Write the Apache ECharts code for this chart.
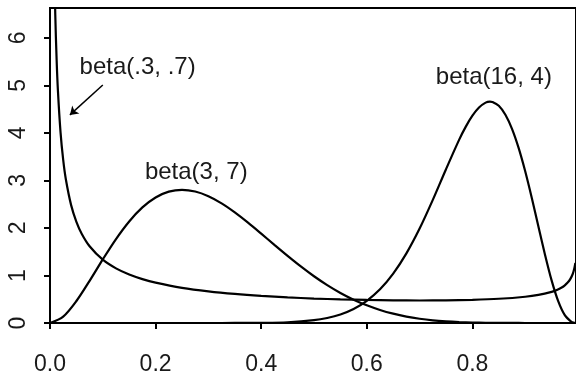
<!DOCTYPE html>
<html><head><meta charset="utf-8">
<script src="https://cdn.jsdelivr.net/npm/echarts@6/dist/echarts.min.js"></script>
<style>html,body{margin:0;padding:0;background:#fff}#c{width:576px;height:377px}</style>
</head><body><div id="c"></div>
<script>
// beta(.3, .7)
const xA = [0.005,0.0075,0.01,0.0125,0.015,0.02,0.025,0.03,0.04,0.05,0.06,0.075,0.1,0.125,0.15,0.175,0.2,0.25,0.3,0.35,0.4,0.45,0.5,0.55,0.6,0.65,0.7,0.75,0.8,0.85,0.9,0.925,0.95,0.96,0.97,0.975,0.98,0.985,0.99,0.9925,0.995];
const yA = [10.52,7.929,6.488,5.554,4.892,4.006,3.432,3.026,2.481,2.129,1.880,1.616,1.332,1.149,1.020,0.924,0.850,0.741,0.666,0.611,0.570,0.539,0.515,0.497,0.485,0.477,0.474,0.477,0.488,0.510,0.553,0.592,0.656,0.696,0.753,0.793,0.845,0.917,1.032,1.124,1.266];
// beta(3, 7)
const xB = [0,0.025,0.05,0.075,0.1,0.125,0.15,0.175,0.2,0.225,0.25,0.275,0.3,0.325,0.35,0.375,0.4,0.425,0.45,0.475,0.5,0.525,0.55,0.575,0.6,0.625,0.65,0.675,0.7,0.725,0.75,0.775,0.8,0.825,0.85,0.875,0.9,0.95,0.995];
const yB = [0,0.135,0.463,0.888,1.339,1.767,2.138,2.433,2.642,2.764,2.803,2.767,2.668,2.518,2.328,2.112,1.881,1.645,1.413,1.191,0.984,0.798,0.633,0.491,0.372,0.274,0.196,0.135,0.090,0.057,0.035,0.020,0.010,0.005,0.002,0.001,0.0002,0,0];
// beta(16, 4)
const xC = [0,0.3,0.35,0.4,0.45,0.5,0.525,0.55,0.575,0.6,0.625,0.65,0.675,0.7,0.725,0.75,0.775,0.7875,0.8,0.8125,0.825,0.8333,0.8375,0.85,0.8625,0.875,0.8875,0.9,0.9125,0.925,0.9375,0.95,0.9625,0.975,0.9875,0.9925,0.995];
const yC = [0,0,0.0006,0.0036,0.0162,0.0591,0.1054,0.180,0.295,0.467,0.709,1.039,1.465,1.987,2.591,3.237,3.860,4.133,4.364,4.535,4.639,4.659,4.653,4.571,4.382,4.086,3.685,3.192,2.630,2.031,1.438,0.898,0.461,0.166,0.025,0.006,0.002];

const xTicks = [0, 0.2, 0.4, 0.6, 0.8];
const yTicks = [0, 1, 2, 3, 4, 5, 6];
const labels = ['beta(.3, .7)', 'beta(3, 7)', 'beta(16, 4)'];
const labelPos = [[0.166, 5.37], [0.277, 3.18], [0.8406, 5.18]];
const arrowFrom = [0.1, 5.01], arrowTo = [0.0377, 4.38];

const FONT = '"Liberation Sans", Arial, Helvetica, sans-serif';
const zip = (xs, ys) => xs.map((x, i) => [x, ys[i]]);
const chart = echarts.init(document.getElementById('c'), null, {renderer: 'canvas'});
const lineSeries = (xs, ys) => ({
  type: 'line', data: zip(xs, ys), showSymbol: false, smooth: 0.3,
  lineStyle: {color: '#000', width: 2.2}, itemStyle: {color: '#000'}, clip: true, silent: true
});
const sA = lineSeries(xA, yA);
sA.markLine = {
  silent: true, symbol: ['none', 'arrow'], symbolSize: 8, precision: 4,
  lineStyle: {color: '#000', width: 1.5, type: 'solid'}, label: {show: false},
  data: [[{coord: arrowFrom}, {coord: arrowTo}]]
};
chart.setOption({
  animation: false,
  grid: {left: 50, right: -2, top: 8, bottom: 54, show: true, borderColor: '#000', borderWidth: 2},
  xAxis: {
    type: 'value', min: 0, max: 0.9962, interval: 0.2,
    axisLine: {show: false}, splitLine: {show: false},
    axisTick: {show: true, inside: false, length: 6, customValues: xTicks, lineStyle: {color: '#000', width: 2}},
    axisLabel: {customValues: xTicks, formatter: v => v.toFixed(1), fontSize: 23, fontFamily: FONT, color: '#1a1a1a', margin: 30}
  },
  yAxis: {
    type: 'value', min: 0, max: 6.63, interval: 1,
    axisLine: {show: false}, splitLine: {show: false},
    axisTick: {show: true, inside: false, length: 6, customValues: yTicks, lineStyle: {color: '#000', width: 2}},
    axisLabel: {customValues: yTicks, rotate: 90, fontSize: 23, fontFamily: FONT, color: '#1a1a1a', margin: 20}
  },
  series: [sA, lineSeries(xB, yB), lineSeries(xC, yC)]
});
chart.setOption({
  graphic: labels.map((t, i) => {
    const p = chart.convertToPixel({gridIndex: 0}, labelPos[i]);
    return {type: 'text', x: p[0], y: p[1], style: {text: t, font: '24px ' + FONT, fill: '#1a1a1a', align: 'center', verticalAlign: 'middle'}};
  })
});
</script></body></html>
